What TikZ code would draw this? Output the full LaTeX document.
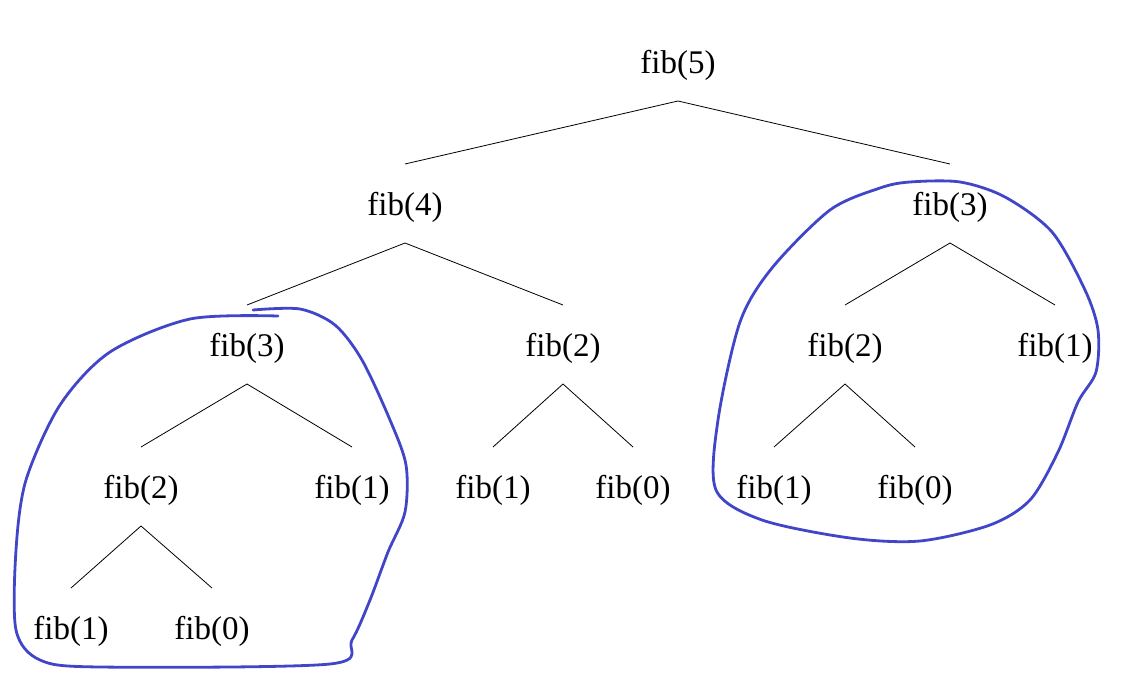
\documentclass[tikz,border=0pt]{standalone}
\usepackage{fontspec}
\setmainfont{Liberation Serif}
\usetikzlibrary{calc}
\begin{document}
\begin{tikzpicture}[x=1pt,y=-1pt,
  t/.style={font=\fontsize{33}{33}\selectfont,inner sep=0pt},
  e/.style={line width=0.8pt},
  loop/.style={draw={rgb,255:red,65;green,70;blue,200},line width=2.8pt,line join=round,line cap=round}]
\useasboundingbox (0,0) rectangle (1127,672);
\node[t] (a) at (678,65) {fib(5)};
\node[t] (b) at (405,207) {fib(4)};
\node[t] (c) at (950,207) {fib(3)};
\node[t] (d) at (247,348) {fib(3)};
\node[t] (f) at (563,348) {fib(2)};
\node[t] (g) at (845,348) {fib(2)};
\node[t] (h) at (1055,348) {fib(1)};
\node[t] (i) at (141,490) {fib(2)};
\node[t] (j) at (352,490) {fib(1)};
\node[t] (k) at (493,490) {fib(1)};
\node[t] (l) at (633,490) {fib(0)};
\node[t] (m) at (774,490) {fib(1)};
\node[t] (n) at (915,490) {fib(0)};
\node[t] (o) at (71,631) {fib(1)};
\node[t] (p) at (212,631) {fib(0)};
\foreach \u/\v in {a/b,a/c,b/d,b/f,c/g,c/h,d/i,d/j,f/k,f/l,g/m,g/n,i/o,i/p}
  \draw[e] ($(\u.center)+(0,36)$) -- ($(\v.center)+(0,-43)$);
\draw[loop] plot[smooth] coordinates {(253,310) (300,309) (335,325) (362,360) (390,420) (406,465) (405,512) (388,552) (370,600) (352,640) (330,664) (100,667) (40,660) (16,630) (16,550) (26,480) (60,405) (110,352) (190,319) (278,316)};
\draw[loop] plot[smooth cycle] coordinates {(910,182) (960,182) (1005,197) (1052,232) (1085,290) (1098,330) (1096,372) (1078,402) (1058,452) (1030,500) (990,525) (920,541) (850,538) (762,520) (716,490) (718,420) (740,322) (772,268) (830,210) (880,188)};
\end{tikzpicture}
\end{document}
